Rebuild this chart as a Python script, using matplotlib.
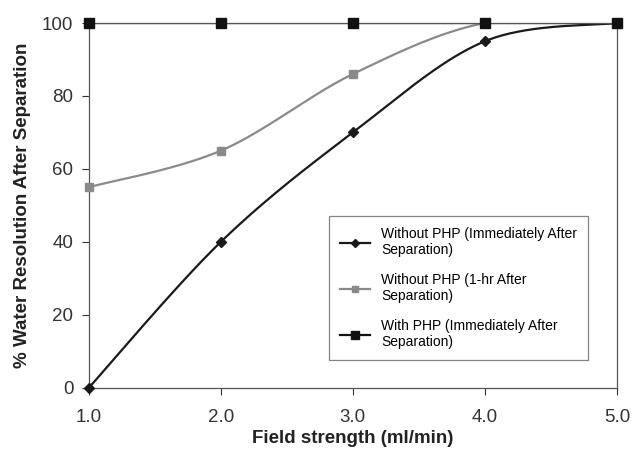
import numpy as np
import matplotlib
matplotlib.use("Agg")
import matplotlib.pyplot as plt
from matplotlib.lines import Line2D

field = [1.0, 2.0, 3.0, 4.0, 5.0]
without_imm = [0, 40, 70, 95, 100]
without_1hr = [55, 65, 86, 100, 100]
with_php = [100, 100, 100, 100, 100]
labels = ["Without PHP (Immediately After\nSeparation)",
          "Without PHP (1-hr After\nSeparation)",
          "With PHP (Immediately After\nSeparation)"]
xticks = [1.0, 2.0, 3.0, 4.0, 5.0]
xticklabels = ["1.0", "2.0", "3.0", "4.0", "5.0"]
yticks = [0, 20, 40, 60, 80, 100]

plt.rcParams['font.family'] = ['Liberation Sans', 'DejaVu Sans']


def smooth(x, y, n=40):
    # Excel-like smoothed line: Catmull-Rom cubic Bezier segments
    x = np.asarray(x, float); y = np.asarray(y, float)
    px = np.concatenate([[x[0]], x, [x[-1]]])
    py = np.concatenate([[y[0]], y, [y[-1]]])
    xs, ys = [], []
    t = np.linspace(0, 1, n)
    for i in range(1, len(px) - 2):
        p0 = np.array([px[i], py[i]]); p3 = np.array([px[i + 1], py[i + 1]])
        p1 = p0 + (np.array([px[i + 1], py[i + 1]]) - np.array([px[i - 1], py[i - 1]])) / 6
        p2 = p3 - (np.array([px[i + 2], py[i + 2]]) - np.array([px[i], py[i]])) / 6
        b = ((1 - t) ** 3)[:, None] * p0 + (3 * (1 - t) ** 2 * t)[:, None] * p1 + \
            (3 * (1 - t) * t ** 2)[:, None] * p2 + (t ** 3)[:, None] * p3
        xs.append(b[:, 0]); ys.append(b[:, 1])
    return np.concatenate(xs), np.concatenate(ys)


fig = plt.figure(figsize=(6.34, 4.51), dpi=100)
ax = fig.add_axes([0.140, 0.140, 0.833, 0.809])

series = [
    (without_imm, "#1a1a1a", "D", 5),
    (without_1hr, "#8a8a8a", "s", 6),
    (with_php, "#111111", "s", 7),
]
handles = []
for (vals, col, mk, ms), lab in zip(series, labels):
    sx, sy = smooth(field, vals)
    ax.plot(sx, sy, color=col, lw=1.6, zorder=2)
    ax.plot(field, vals, linestyle="none", marker=mk, color=col, ms=ms, zorder=3, clip_on=False)
    handles.append(Line2D([0], [0], color=col, lw=1.6, marker=mk, ms=ms - 1))

ax.set_xlim(1.0, 5.0)
ax.set_ylim(0, 100)
ax.set_xticks(xticks)
ax.set_xticklabels(xticklabels)
ax.set_yticks(yticks)
ax.tick_params(axis="both", labelsize=13.5, colors="#333333", length=5, width=0.8, direction="out")
ax.tick_params(axis="x", pad=10)
ax.tick_params(axis="y", pad=6)
for s in ["left", "bottom", "right", "top"]:
    ax.spines[s].set_color("#555555")
    ax.spines[s].set_linewidth(0.9)
ax.set_xlabel("Field strength (ml/min)", fontsize=13.5, fontweight="bold", color="#222222", labelpad=3)
ax.set_ylabel("% Water Resolution After Separation", fontsize=13.5, fontweight="bold", color="#222222", labelpad=8)

leg = ax.legend(handles, labels, loc="lower right", bbox_to_anchor=(0.945, 0.077),
                fontsize=10, frameon=True, fancybox=False, edgecolor="#666666",
                handlelength=2.2, labelspacing=1.15, borderpad=0.75, borderaxespad=0)
leg.get_frame().set_linewidth(0.9)

fig.savefig("out.png", dpi=100)
